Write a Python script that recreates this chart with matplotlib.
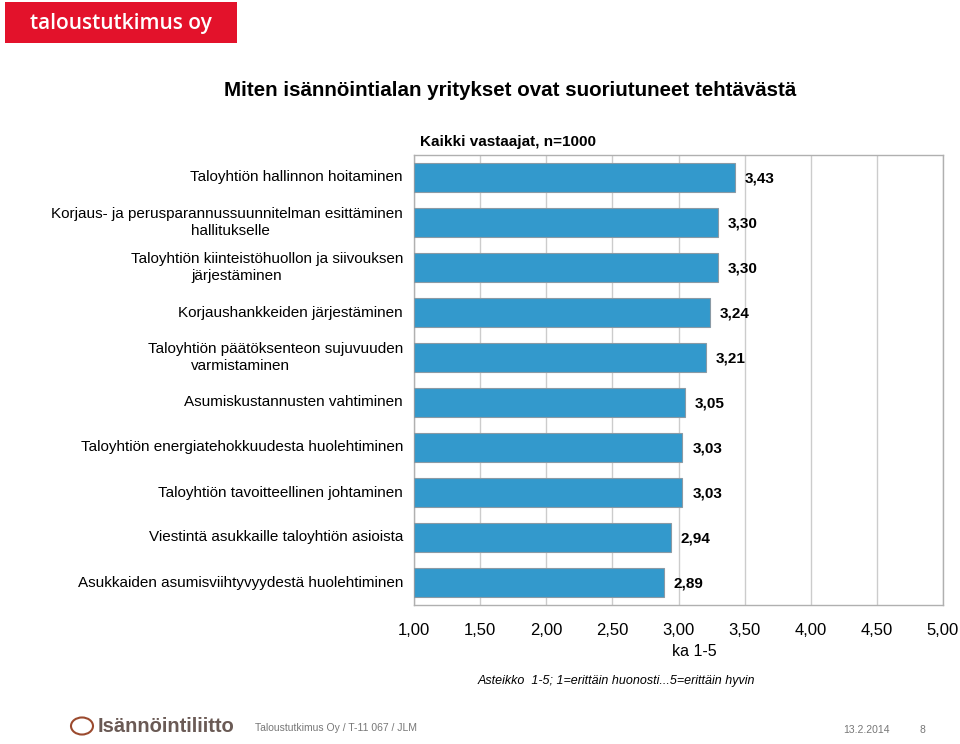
import matplotlib
matplotlib.use("Agg")
import matplotlib.pyplot as plt
import matplotlib.transforms as mtransforms
from matplotlib.patches import Rectangle, Circle

plt.rcParams['font.family'] = ['Liberation Sans', 'DejaVu Sans']

labels = [
    ("Taloyhtiön hallinnon hoitaminen", None),
    ("Korjaus- ja perusparannussuunnitelman esittäminen", "hallitukselle"),
    ("Taloyhtiön kiinteistöhuollon ja siivouksen", "järjestäminen"),
    ("Korjaushankkeiden järjestäminen", None),
    ("Taloyhtiön päätöksenteon sujuvuuden", "varmistaminen"),
    ("Asumiskustannusten vahtiminen", None),
    ("Taloyhtiön energiatehokkuudesta huolehtiminen", None),
    ("Taloyhtiön tavoitteellinen johtaminen", None),
    ("Viestintä asukkaille taloyhtiön asioista", None),
    ("Asukkaiden asumisviihtyvyydestä huolehtiminen", None),
]
values = [3.43, 3.30, 3.30, 3.24, 3.21, 3.05, 3.03, 3.03, 2.94, 2.89]
xticks = [1.0, 1.5, 2.0, 2.5, 3.0, 3.5, 4.0, 4.5, 5.0]

fig = plt.figure(figsize=(9.6, 7.44), dpi=100)
ax = fig.add_axes([414/960, 1-605/744, (943-414)/960, (605-155)/744])

ypos = list(range(len(values)))
ax.barh(ypos, [v - 1 for v in values], left=1, height=0.66,
        color='#3399CC', edgecolor='#8a9aa5', linewidth=0.8, zorder=3)
ax.set_xlim(1, 5)
ax.set_ylim(9.5, -0.5)
ax.set_xticks(xticks)
ax.set_xticklabels([f"{t:.2f}".replace('.', ',') for t in xticks], fontsize=12)
ax.set_yticks([])
ax.tick_params(axis='x', length=0, pad=13)
ax.grid(axis='x', color='#cccccc', linewidth=1, zorder=0)
for s in ax.spines.values():
    s.set_color('#b0b0b0')
    s.set_linewidth(1)

for y, v in zip(ypos, values):
    ax.annotate(f"{v:.2f}".replace('.', ','), (v, y), xytext=(7, -1),
                textcoords='offset points', va='center', ha='left',
                fontsize=11, fontweight='bold', zorder=4)

# category labels: first line right aligned, second line starts at a fixed x
tr = mtransforms.blended_transform_factory(fig.transFigure, ax.transData)
for y, (l1, l2) in zip(ypos, labels):
    if l2 is None:
        ax.text(403/960, y, l1, transform=tr, ha='right', va='center', fontsize=11)
    else:
        ax.text(403/960, y - 0.19, l1, transform=tr, ha='right', va='center', fontsize=11)
        ax.text(191/960, y + 0.19, l2, transform=tr, ha='left', va='center', fontsize=11)

fig.text(510/960, 1-90/744, "Miten isännöintialan yritykset ovat suoriutuneet tehtävästä",
         ha='center', va='center', fontsize=14.8, fontweight='bold')
fig.text(420/960, 1-142/744, "Kaikki vastaajat, n=1000", ha='left', va='center',
         fontsize=11, fontweight='bold')
fig.text(694/960, 1-651/744, "ka 1-5", ha='center', va='center', fontsize=11.5)
fig.text(616/960, 1-681/744, "Asteikko  1-5; 1=erittäin huonosti...5=erittäin hyvin",
         ha='center', va='center', fontsize=9, style='italic')

# header logo
fig.patches.append(Rectangle((5/960, 1-43/744), 232/960, 41/744, transform=fig.transFigure,
                             facecolor='#E3122B', edgecolor='none'))
fig.text(121/960, 1-23/744, "taloustutkimus oy", ha='center', va='center',
         fontsize=15, fontweight='semibold', color='white', family='Open Sans')

# footer
fig.patches.append(Circle((82/960, 1-726/744), 11/960, transform=fig.transFigure,
                          facecolor='none', edgecolor='#9b4a2e', linewidth=1.5))
fig.text(98/960, 1-727/744, "Isännöintiliitto", ha='left', va='center',
         fontsize=14.5, fontweight='bold', color='#6a5a55')
fig.text(255/960, 1-728/744, "Taloustutkimus Oy / T-11 067 / JLM", ha='left', va='center',
         fontsize=7.5, color='#777777')
fig.text(843/960, 1-730/744, "13.2.2014", ha='left', va='center', fontsize=7.5, color='#777777')
fig.text(920/960, 1-730/744, "8", ha='left', va='center', fontsize=7.5, color='#777777')

fig.savefig("out.png", dpi=100)
